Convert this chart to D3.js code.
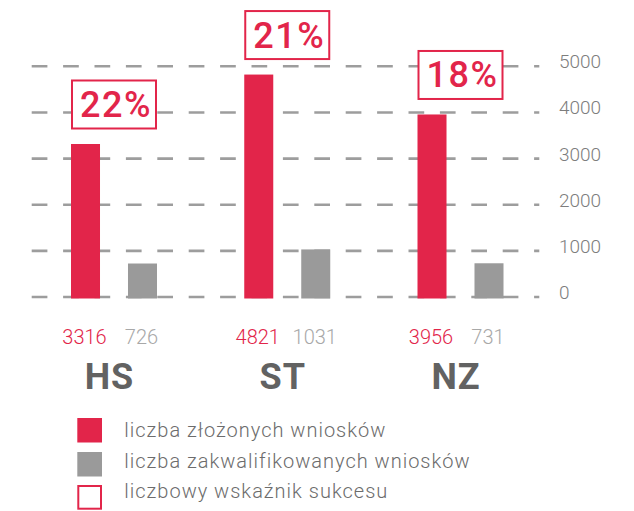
<!DOCTYPE html>
<html>
<head>
<meta charset="utf-8">
<script src="https://cdn.jsdelivr.net/npm/d3@7"></script>
<style>
  html, body { margin: 0; padding: 0; background: #fff; }
  svg { display: block; font-family: Roboto, "Noto Sans", sans-serif; }
</style>
</head>
<body>
<div id="chart"></div>
<script>
// data
var categories = ["HS", "ST", "NZ"];
var submitted = [3316, 4821, 3956];
var qualified = [726, 1031, 731];
var successRate = [22, 21, 18];
var yTicks = [0, 1000, 2000, 3000, 4000, 5000];
var series = ["submitted", "qualified"];
var legendLabels = [
    "liczba złożonych wniosków",
    "liczba zakwalifikowanych wniosków",
    "liczbowy wskaźnik sukcesu"
];

var red = "#e2254a",
    grey = "#9a9a9a";

var width = 634,
    height = 511;

var svg = d3.select("#chart")
    .append("svg")
    .attr("width", width)
    .attr("height", height);

// scales
var x = d3.scalePoint()
    .domain(categories)
    .range([114, 460.5]);

var xInner = d3.scaleBand()
    .domain(series)
    .range([-43, 43])
    .paddingInner(0.491);

var y = d3.scaleLinear()
    .domain([0, 5000])
    .range([297, 66.3]);

// dashed grid
svg.append("g")
    .attr("class", "grid")
    .selectAll("line")
    .data(yTicks)
    .enter().append("line")
    .attr("x1", 31.7)
    .attr("x2", 539.3)
    .attr("y1", function(d) { return y(d); })
    .attr("y2", function(d) { return y(d); })
    .attr("stroke", "#9d9d9d")
    .attr("stroke-width", 2.6)
    .attr("stroke-dasharray", "15.7,15.7");

// y axis labels on the right
var yAxis = svg.append("g")
    .attr("transform", "translate(559,0)")
    .call(d3.axisRight(y).tickValues(yTicks).tickSize(0).tickPadding(0).tickFormat(d3.format("d")));

yAxis.select(".domain").remove();
yAxis.selectAll("text")
    .attr("dy", 1.5)
    .attr("fill", "#7d7d7d")
    .style("font-size", "19px")
    .style("font-weight", 300)
    .style("font-family", "Roboto, sans-serif");

// bars
var rows = categories.map(function(c, i) {
    return { cat: c, submitted: submitted[i], qualified: qualified[i], rate: successRate[i] };
});

var group = svg.selectAll("g.group")
    .data(rows)
    .enter().append("g")
    .attr("class", "group")
    .attr("transform", function(d) { return "translate(" + x(d.cat) + ",0)"; });

group.selectAll("rect.bar")
    .data(function(d) {
        return series.map(function(s) { return { key: s, value: d[s] }; });
    })
    .enter().append("rect")
    .attr("class", "bar")
    .attr("x", function(d) { return xInner(d.key); })
    .attr("width", xInner.bandwidth())
    .attr("y", function(d) { return y(d.value); })
    .attr("height", function(d) { return y(0) - y(d.value) + 1.5; })
    .attr("fill", function(d) { return d.key == "submitted" ? red : grey; });

// success rate boxes
var boxLeft = xInner("submitted"),
    boxRight = xInner("qualified") + xInner.bandwidth();

group.append("rect")
    .attr("x", boxLeft + 1)
    .attr("width", boxRight - boxLeft - 2)
    .attr("y", function(d) { return y(d.submitted) - 14.5 - 49; })
    .attr("height", 48)
    .attr("fill", "#fff")
    .attr("stroke", red)
    .attr("stroke-width", 2);

group.append("text")
    .attr("x", 2)
    .attr("y", function(d) { return y(d.submitted) - 14.5 - 50 + 37.5; })
    .attr("text-anchor", "middle")
    .attr("fill", red)
    .style("font-size", "36px")
    .style("font-weight", 500)
    .style("letter-spacing", "1.5px")
    .text(function(d) { return d.rate + "%"; });

// value labels under bars
group.selectAll("text.value")
    .data(function(d) {
        return series.map(function(s) { return { key: s, value: d[s] }; });
    })
    .enter().append("text")
    .attr("class", "value")
    .attr("x", function(d) { return xInner(d.key) + xInner.bandwidth() / 2 - 1; })
    .attr("y", 344.3)
    .attr("text-anchor", "middle")
    .attr("fill", function(d) { return d.key == "submitted" ? red : "#a8a8a8"; })
    .style("font-size", "20px")
    .style("font-weight", 300)
    .text(function(d) { return d.value; });

// category labels
group.append("text")
    .attr("x", -4.5)
    .attr("y", 389)
    .attr("text-anchor", "middle")
    .attr("fill", "#626262")
    .style("font-size", "36px")
    .style("font-weight", 700)
    .style("letter-spacing", "1px")
    .text(function(d) { return d.cat; });

// legend
var legend = svg.append("g").attr("class", "legend");
var legendSquares = [418, 452, 485];
var legendBaselines = [437, 468, 498];

legend.selectAll("rect")
    .data(legendLabels)
    .enter().append("rect")
    .attr("x", function(d, i) { return i == 2 ? 78.3 : 77.3; })
    .attr("y", function(d, i) { return i == 2 ? legendSquares[i] + 1 : legendSquares[i]; })
    .attr("width", function(d, i) { return i == 2 ? 22.7 : 24.7; })
    .attr("height", function(d, i) { return i == 2 ? 22.7 : 24.5; })
    .attr("fill", function(d, i) { return i == 0 ? red : (i == 1 ? grey : "#fff"); })
    .attr("stroke", function(d, i) { return i == 2 ? red : "none"; })
    .attr("stroke-width", 2);

legend.selectAll("text")
    .data(legendLabels)
    .enter().append("text")
    .attr("x", 124.3)
    .attr("y", function(d, i) { return legendBaselines[i]; })
    .attr("fill", "#6c6c6c")
    .style("font-size", "20px")
    .style("font-weight", 300)
    .style("letter-spacing", "1px")
    .text(function(d) { return d; });
</script>
</body>
</html>
